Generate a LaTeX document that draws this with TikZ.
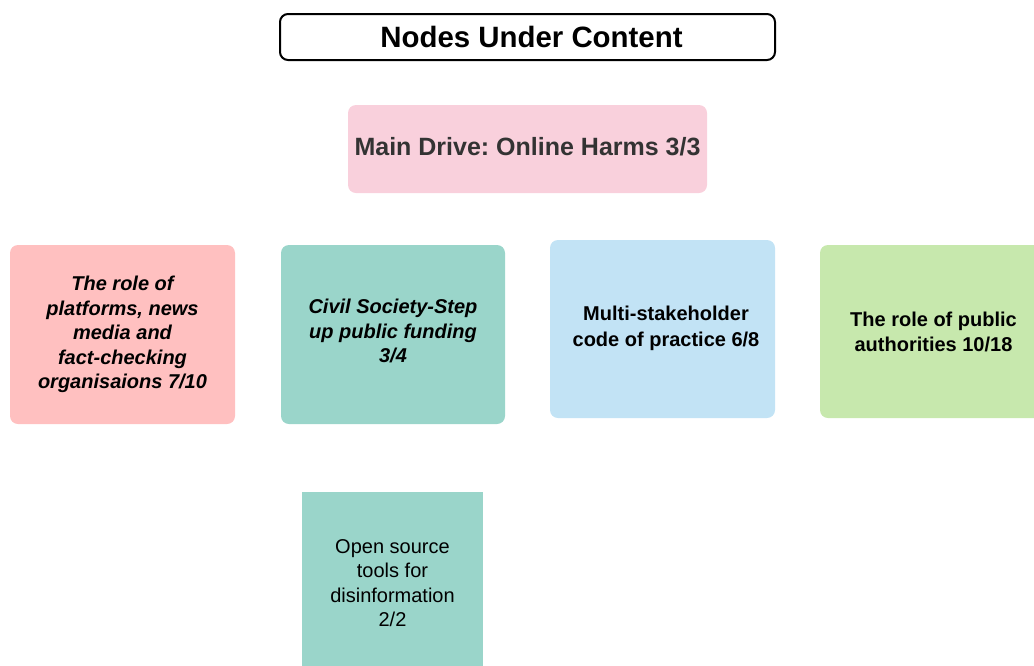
\documentclass[tikz,border=0pt]{standalone}
\usepackage{fontspec}
\setmainfont{Liberation Sans}
\frenchspacing
\begin{document}
\begin{tikzpicture}[x=1pt,y=-1pt,
  card/.style={rounded corners=8pt, draw=none},
  lbl/.style={align=center, font=\fontsize{20}{24.5}\selectfont\bfseries}]
\useasboundingbox (0,0) rectangle (1034,665);
\definecolor{pinkA}{HTML}{F9D0DC}
\definecolor{redA}{HTML}{FFC0C0}
\definecolor{tealA}{HTML}{9AD5CA}
\definecolor{blueA}{HTML}{C2E3F5}
\definecolor{greenA}{HTML}{C7E8AD}
\definecolor{grayT}{HTML}{333333}
% title
\draw[rounded corners=8pt, line width=2pt, fill=white] (280,14) rectangle (775,60);
\node[font=\fontsize{29.4}{33}\selectfont\bfseries] (title) at (531.5,37) {Nodes Under Content};
% main drive
\fill[pinkA, card] (348,105) rectangle (707,193);
\node[font=\fontsize{25}{29}\selectfont\bfseries, text=grayT] (main) at (527.5,147) {Main Drive: Online Harms 3/3};
% red
\fill[redA, card] (10,245) rectangle (235,424);
\node[lbl, font=\fontsize{20}{24.5}\selectfont\bfseries\itshape] (platforms) at (122.5,334.5) {The role of\\platforms, news\\media and\\fact-checking\\organisaions 7/10};
% teal
\fill[tealA, card] (281,245) rectangle (505,424);
\node[lbl, font=\fontsize{20}{24.5}\selectfont\bfseries\itshape] (civil) at (393,331) {Civil Society-Step\\up public funding\\3/4};
% blue
\fill[blueA, card] (550,240) rectangle (775,418);
\node[lbl, font=\fontsize{20}{26}\selectfont\bfseries] (code) at (666,328.5) {Multi-stakeholder\\code of practice 6/8};
% green
\fill[greenA, card] (820,245) rectangle (1050,418);
\node[lbl] (public) at (933.5,332) {The role of public\\authorities 10/18};
% bottom teal
\fill[tealA] (302,492) rectangle (483,670);
\node[align=center, font=\fontsize{20}{24.5}\selectfont] (osint) at (392.5,583) {Open source\\tools for\\disinformation\\2/2};
\end{tikzpicture}
\end{document}
